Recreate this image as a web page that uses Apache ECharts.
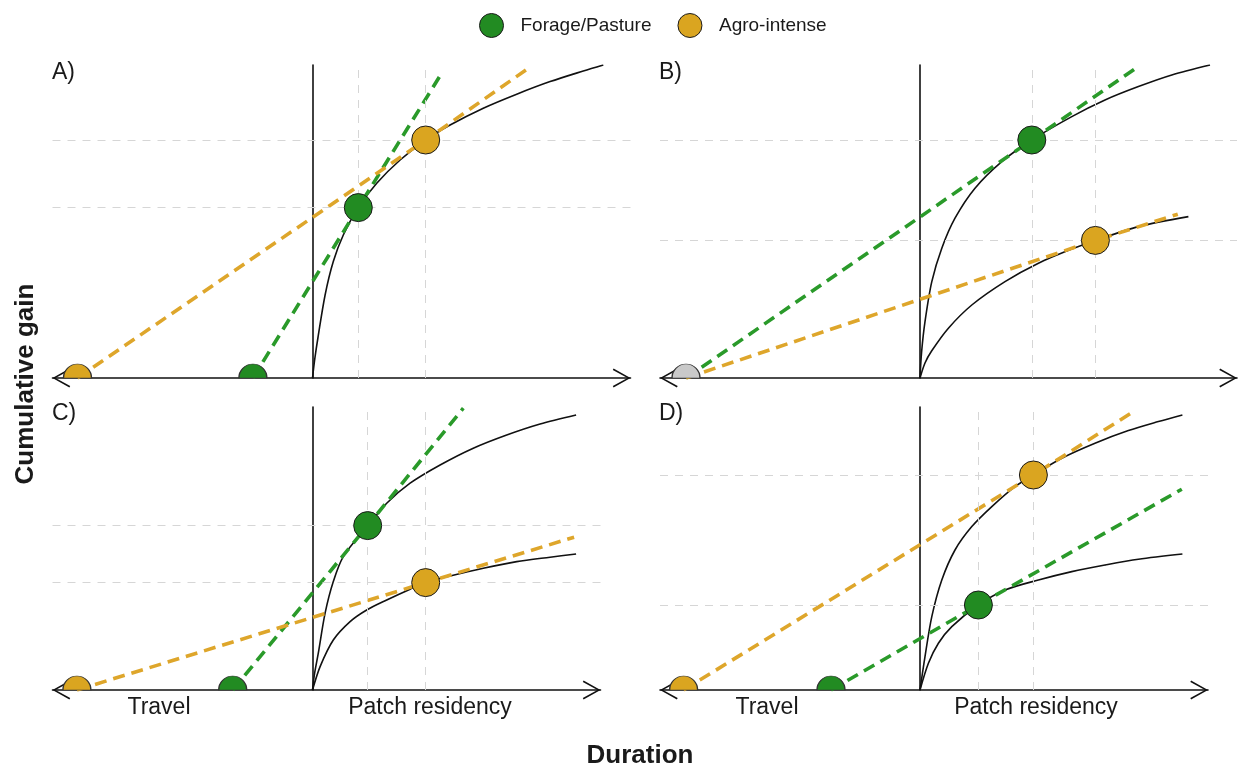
<!DOCTYPE html>
<html>
<head>
<meta charset="utf-8">
<script src="https://cdn.jsdelivr.net/npm/echarts@6/dist/echarts.min.js"></script>
<style>
html,body{margin:0;padding:0;background:#fff;}
#chart{width:1243px;height:769px;}
</style>
</head>
<body>
<div id="chart"></div>
<script>
// ================= DATA (arbitrary duration / gain units) =================
const panelNames = ['A)', 'B)', 'C)', 'D)'];
const legendNames = ['Forage/Pasture', 'Agro-intense'];
const axisTitles = ['Cumulative gain', 'Duration'];
const regionLabels = ['Travel', 'Patch residency'];

// Panel A: one gain curve shared by both strategies
const gainCurveA = [[0,0],[0.12,1.0],[0.27,2.0],[0.63,4.15],[1.04,5.82],[1.54,7.15],[2.29,8.52],[3.21,9.74],[4.38,10.9],[5.66,11.9],[6.88,12.65],[8.54,13.49],[10.21,14.19],[11.88,14.82],[13.54,15.35],[14.54,15.65]];
// tangent lines: [travel start, patch leave point, end of dashed line]
const forageTangentA = [[-2.98,0],[2.29,8.52],[6.46,15.24]];
const agroTangentA = [[-11.75,0],[5.66,11.9],[10.84,15.52]];

// Panel B: two gain curves, shared travel time
const forageCurveB = [[0,0],[0.08,1.3],[0.25,2.82],[0.59,4.82],[1.09,6.49],[1.75,7.99],[2.75,9.49],[4.09,10.82],[5.59,11.9],[7.59,13.07],[9.25,13.9],[10.92,14.57],[12.59,15.15],[14.5,15.65]];
const agroCurveB = [[0,0],[0.25,0.75],[0.58,1.35],[1.42,2.49],[2.59,3.65],[4.25,4.82],[5.92,5.74],[7.59,6.45],[8.77,6.88],[10.92,7.57],[13.42,8.07]];
const forageTangentB = [[-11.7,0],[5.59,11.9],[10.79,15.49]];
const agroTangentB = [[-11.7,0],[8.77,6.88],[12.89,8.19]];

// Panel C
const forageCurveC = [[0,0],[0.1,0.8],[0.29,1.84],[0.63,3.84],[1.04,5.42],[1.54,6.67],[2.76,8.22],[3.71,9.34],[4.88,10.34],[6.38,11.25],[8.04,12.09],[9.71,12.75],[11.38,13.3],[13.18,13.75]];
const agroCurveC = [[0,0],[0.38,1.17],[1.04,2.5],[1.88,3.42],[2.71,4.0],[3.71,4.5],[4.88,5.04],[5.66,5.37],[6.88,5.7],[8.54,6.09],[10.21,6.42],[11.88,6.64],[13.18,6.8]];
const forageTangentC = [[-3.99,0],[2.76,8.22],[7.54,14.09]];
const agroTangentC = [[-11.78,0],[5.66,5.37],[13.08,7.64]];

// Panel D
const agroCurveD = [[0,0],[0.25,1.67],[0.59,3.67],[1.09,5.5],[1.75,7.0],[2.59,8.17],[3.59,9.17],[4.75,10.17],[5.67,10.75],[7.09,11.59],[8.75,12.34],[10.42,12.97],[11.92,13.42],[13.12,13.75]];
const forageCurveD = [[0,0],[0.42,1.34],[0.92,2.34],[1.59,3.17],[2.92,4.25],[4.25,5.0],[5.92,5.5],[7.59,5.92],[9.25,6.25],[10.92,6.54],[13.12,6.8]];
const forageTangentD = [[-4.45,0],[2.92,4.25],[13.09,10.04]];
const agroTangentD = [[-11.82,0],[5.67,10.75],[10.59,13.87]];

// ================= LAYOUT / STYLE =================
const FONT = "'Liberation Sans', Arial, Helvetica, sans-serif";
const GREEN = '#228B22', GREEN_LINE = '#2A9A2A';
const GOLD = '#DAA520', GOLD_LINE = '#DEA62B';
const GREY = '#C9C9C9';
const gridBoxes = [
  {left: 52.5, top: 65, width: 578, height: 313},
  {left: 660, top: 65, width: 577, height: 313},
  {left: 52.5, top: 407, width: 548, height: 283},
  {left: 660, top: 407, width: 548, height: 283}
];
const xRanges = [[-13, 15.9], [-13, 15.85], [-13, 14.4], [-13, 14.4]];
const yMaxes = [15.65, 15.65, 14.15, 14.15];

const panels = [
  {curves: [gainCurveA], forage: forageTangentA, agro: agroTangentA, shared: false},
  {curves: [forageCurveB, agroCurveB], forage: forageTangentB, agro: agroTangentB, shared: true},
  {curves: [forageCurveC, agroCurveC], forage: forageTangentC, agro: agroTangentC, shared: false},
  {curves: [agroCurveD, forageCurveD], forage: forageTangentD, agro: agroTangentD, shared: false}
];

// open chevron arrow (apex centred so it sits at the axis end)
const ARROW = 'path://M9.5,-17.7L9.52,-17.7L9.5,-17.68Z M9.5,0L19,17L17.6,17.8L9.5,3.1L1.4,17.8L0,17Z';
const HALF = 'path://M0,14 A14,14 0 0 1 28,14 Z';

const grids = gridBoxes.map(b => Object.assign({containLabel: false, outerBoundsMode: 'none'}, b));
const xAxes = xRanges.map((r, i) => ({
  type: 'value', gridIndex: i, min: r[0], max: r[1],
  axisLine: {show: true, onZero: true, symbol: [ARROW, ARROW], symbolSize: [19, 35.4],
             lineStyle: {color: '#111', width: 1.6}},
  axisTick: {show: false}, axisLabel: {show: false}, splitLine: {show: false}
}));
const yAxes = yMaxes.map((m, i) => ({
  type: 'value', gridIndex: i, min: 0, max: m,
  axisLine: {show: true, onZero: true, lineStyle: {color: '#111', width: 1.6}},
  axisTick: {show: false}, axisLabel: {show: false}, splitLine: {show: false}
}));

const series = [];
panels.forEach((p, i) => {
  const ax = {xAxisIndex: i, yAxisIndex: i};
  const patchPts = [p.forage[1], p.agro[1]];
  // light dashed reference lines through the leave points
  series.push({
    type: 'line', name: 'ref' + i, ...ax, data: [], z: 1, silent: true,
    markLine: {
      silent: true, symbol: ['none', 'none'], label: {show: false}, animation: false,
      emphasis: {disabled: true},
      lineStyle: {color: '#D6D6D6', width: 1, type: [8, 7]},
      data: patchPts.flatMap(pt => [{xAxis: pt[0]}, {yAxis: pt[1]}])
    }
  });
  p.curves.forEach((c, k) => series.push({
    type: 'line', name: 'gain' + i + '_' + k, ...ax, data: c, smooth: 0.3,
    symbol: 'none', showSymbol: false, silent: true, z: 2,
    lineStyle: {color: '#111', width: 1.6}
  }));
  [[p.forage, GREEN_LINE, 'fTan'], [p.agro, GOLD_LINE, 'aTan']].forEach(([t, col, nm]) => series.push({
    type: 'line', name: nm + i, ...ax, data: t, symbol: 'none', showSymbol: false, silent: true, z: 3,
    lineStyle: {color: col, width: 3.6, type: [12, 7], cap: 'butt'}
  }));
  // leave points
  series.push({
    type: 'scatter', name: legendNames[0], ...ax, data: [p.forage[1]], symbolSize: 28, z: 5, clip: false,
    itemStyle: {color: GREEN, borderColor: '#1b1b1b', borderWidth: 1, opacity: 1}
  });
  series.push({
    type: 'scatter', name: legendNames[1], ...ax, data: [p.agro[1]], symbolSize: 28, z: 5, clip: false,
    itemStyle: {color: GOLD, borderColor: '#1b1b1b', borderWidth: 1, opacity: 1}
  });
  // travel start points (half discs sitting on the axis)
  const travel = p.shared
    ? [[p.forage[0], GREY, 'shared']]
    : [[p.forage[0], GREEN, 'fTravel'], [p.agro[0], GOLD, 'aTravel']];
  travel.forEach(([pt, col, nm]) => series.push({
    type: 'scatter', name: nm + i, ...ax, data: [pt], symbol: HALF, symbolSize: [28, 14],
    symbolOffset: [0, -7], z: 6, clip: false,
    itemStyle: {color: col, borderColor: '#333', borderWidth: 1, opacity: 1}
  }));
});

const txt = (text, x, y, size, extra) => Object.assign({
  type: 'text', x: x, y: y, silent: true, z: 50,
  style: Object.assign({text: text, fontFamily: FONT, fontSize: size, fill: '#1a1a1a',
    align: 'left', verticalAlign: 'middle'}, (extra && extra.style) || {})
}, extra ? {rotation: extra.rotation || 0} : {});

const graphics = [
  txt(panelNames[0], 52, 73, 23),
  txt(panelNames[1], 659, 73, 23),
  txt(panelNames[2], 52, 414, 23),
  txt(panelNames[3], 659, 414, 23),
  txt(regionLabels[0], 159, 708, 23, {style: {align: 'center'}}),
  txt(regionLabels[1], 430, 708, 23, {style: {align: 'center'}}),
  txt(regionLabels[0], 767, 708, 23, {style: {align: 'center'}}),
  txt(regionLabels[1], 1036, 708, 23, {style: {align: 'center'}}),
  txt(axisTitles[0], 26, 384, 26, {rotation: Math.PI / 2, style: {align: 'center', fontWeight: 'bold'}}),
  txt(axisTitles[1], 640, 756, 26, {style: {align: 'center', fontWeight: 'bold'}})
];

const chart = echarts.init(document.getElementById('chart'), null, {renderer: 'canvas'});
chart.setOption({
  animation: false,
  backgroundColor: '#ffffff',
  textStyle: {fontFamily: FONT},
  legend: {
    left: 474, top: 8, itemWidth: 48, itemHeight: 24, itemGap: 26, selectedMode: false,
    textStyle: {fontFamily: FONT, fontSize: 19, color: '#1a1a1a'},
    data: [
      {name: legendNames[0], icon: 'circle', itemStyle: {color: GREEN, borderColor: '#1b1b1b', borderWidth: 1}},
      {name: legendNames[1], icon: 'circle', itemStyle: {color: GOLD, borderColor: '#1b1b1b', borderWidth: 1}}
    ]
  },
  grid: grids,
  xAxis: xAxes,
  yAxis: yAxes,
  series: series,
  graphic: graphics
});
</script>
</body>
</html>
